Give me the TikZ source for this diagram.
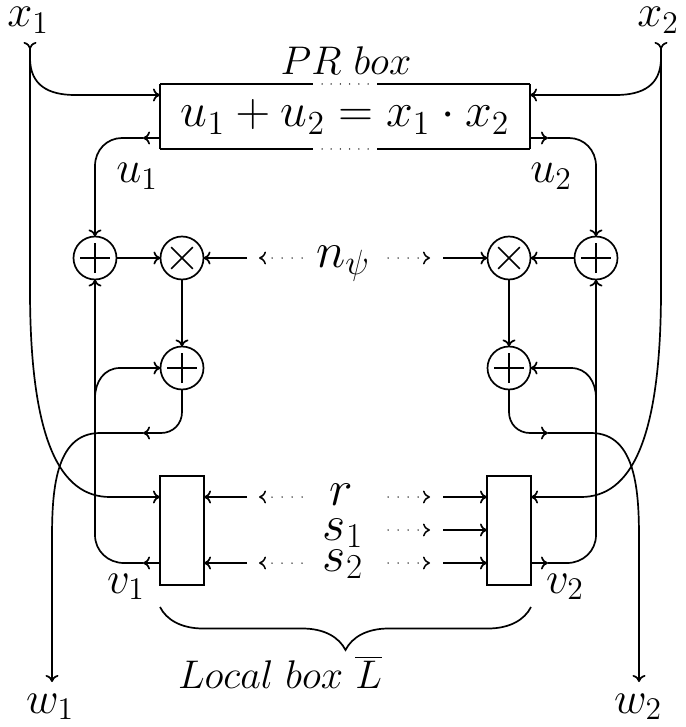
\RequirePackage{fix-cm}
\documentclass[tikz,border=0pt]{standalone}
\usetikzlibrary{arrows.meta,decorations.pathreplacing,calc}
\begin{document}
\begin{tikzpicture}[x=0.5pt,y=-0.5pt,
  line width=0.85pt,
  >={Computer Modern Rightarrow[length=3.5pt,width=6.5pt]},
  tailhead/.style={{Computer Modern Rightarrow[length=3.5pt,width=6.5pt,reversed]}-{Computer Modern Rightarrow[length=3.5pt,width=6.5pt]}},
  lbl/.style={font=\fontsize{22.5}{27}\selectfont, inner sep=0pt, anchor=base},
  toplbl/.style={font=\fontsize{20}{24}\selectfont, inner sep=0pt, anchor=base},
  midlbl/.style={font=\fontsize{25}{30}\selectfont, inner sep=0pt, anchor=base},
  addop/.style={circle, draw, minimum size=21.5pt, inner sep=0pt, outer sep=0pt,
    path picture={
      \draw ([xshift=-7.5pt]path picture bounding box.center) -- ([xshift=7.5pt]path picture bounding box.center);
      \draw ([yshift=-7.5pt]path picture bounding box.center) -- ([yshift=7.5pt]path picture bounding box.center);}},
  mulop/.style={circle, draw, minimum size=21.5pt, inner sep=0pt, outer sep=0pt,
    path picture={
      \draw ([shift={(-5.4pt,-5.4pt)}]path picture bounding box.center) -- ([shift={(5.4pt,5.4pt)}]path picture bounding box.center);
      \draw ([shift={(-5.4pt,5.4pt)}]path picture bounding box.center) -- ([shift={(5.4pt,-5.4pt)}]path picture bounding box.center);}},
  localbox/.style={draw, minimum width=22pt, minimum height=54.5pt, inner sep=0pt, outer sep=0pt},
  dots/.style={line width=0.75pt, line cap=round, dash pattern=on 0pt off 5pt},
  edgedots/.style={line width=0.75pt, line cap=round, dash pattern=on 0pt off 4.6pt},
]
\path[fill=white] (0,0) rectangle (685,727);
\useasboundingbox (0,0) rectangle (685,727);

% labels
\node[lbl] (x1) at (28,27) {$x_1$};
\node[lbl] (x2) at (658,27) {$x_2$};
\node[toplbl] (prlab) at (346,75) {$PR\ box$};
\node[font=\fontsize{24}{29}\selectfont, inner sep=0pt, anchor=base] (prtext) at (345,127) {$u_1+u_2=x_1\cdot x_2$};
\node[lbl] (u1) at (137,183) {$u_1$};
\node[lbl] (u2) at (551,183) {$u_2$};
\node[midlbl] (npsi) at (343,267) {$n_\psi$};
\node[midlbl] (r) at (341,505) {$r$};
\node[midlbl] (s1) at (343,540) {$s_1$};
\node[midlbl] (s2) at (343,571) {$s_2$};
\node[lbl] (v1) at (126,593) {$v_1$};
\node[lbl] (v2) at (565,593) {$v_2$};
\node[lbl] (w1) at (50,713) {$w_1$};
\node[lbl] (w2) at (638,713) {$w_2$};
\node[toplbl] (loc) at (280,688) {$Local\ box\ \overline{L}$};

% PR box
\node[inner sep=0pt, outer sep=0pt, minimum width=185pt, minimum height=32.5pt] (prb) at (345,116.5) {};
\draw (prb.north west) -- (prb.south west);
\draw (prb.north east) -- (prb.south east);
\coordinate (tA) at (313,84); \coordinate (tB) at (377,84);
\coordinate (bA) at (313,149); \coordinate (bB) at (377,149);
\draw (prb.north west) -- (tA); \draw (tB) -- (prb.north east);
\draw (prb.south west) -- (bA); \draw (bB) -- (prb.south east);
\draw[edgedots] (322,84) -- (368,84);
\draw[edgedots] (322,149) -- (368,149);

% operators
\node[addop] (addL) at (95,258) {};
\node[mulop] (mulL) at (182,258) {};
\node[mulop] (mulR) at (509,258) {};
\node[addop] (addR) at (596,258) {};
\node[addop] (addL2) at (182,368) {};
\node[addop] (addR2) at (509,368) {};

% local boxes
\node[localbox] (lbox) at (182,530.5) {};
\node[localbox] (rbox) at (509,530.5) {};

% helper coordinates
\coordinate (x1s) at (30,42);  \coordinate (x2s) at (661,42);
\coordinate (x1b) at (30,58);  \coordinate (x2b) at (661,58);
\coordinate (yin) at (0,95);   \coordinate (yout) at (0,138);
\coordinate (yr) at (0,497);   \coordinate (ys1) at (0,530); \coordinate (ys2) at (0,563);
\coordinate (u1m) at (143,138); \coordinate (u2m) at (548,138);
\coordinate (v1m) at (143,563); \coordinate (v2m) at (548,563);
\coordinate (w1m) at (143,433); \coordinate (w2m) at (548,433);
\coordinate (w1e) at (52,682);  \coordinate (w2e) at (639,682);
\coordinate (v1b) at (95,398);  \coordinate (v2b) at (596,398);

% x1 / x2
\draw[tailhead] (x1s) -- (30,290) .. controls (30,440) and (60,497) .. (110,497) -- (lbox.west |- yr);
\draw[->] (x1b) .. controls (30,85) and (48,95) .. (75,95) -- (prb.west |- yin);
\draw[tailhead] (x2s) -- (661,290) .. controls (661,440) and (631,497) .. (581,497) -- (rbox.east |- yr);
\draw[->] (x2b) .. controls (661,85) and (643,95) .. (616,95) -- (prb.east |- yin);

% u1 / u2
\draw[->] (prb.west |- yout) -- (u1m);
\draw[->] (u1m) -- (122,138) .. controls (107,138) and (95,150) .. (95,166) -- (addL.north);
\draw[->] (prb.east |- yout) -- (u2m);
\draw[->] (u2m) -- (569,138) .. controls (584,138) and (596,150) .. (596,166) -- (addR.north);

% operator chain
\draw[->] (addL.east) -- (mulL.west);
\draw[->] (addR.west) -- (mulR.east);
\draw[->] (mulL.south) -- (addL2.north);
\draw[->] (mulR.south) -- (addR2.north);

% n_psi
\coordinate (nLs) at (247,258); \coordinate (nRs) at (443,258);
\coordinate (nLd) at (302,258); \coordinate (nLt) at (259,258);
\coordinate (nRd) at (388,258); \coordinate (nRt) at (430,258);
\draw[->] (nLs) -- (mulL.east);
\draw[->] (nRs) -- (mulR.west);
\draw[dots,->] (nLd) -- (nLt);
\draw[dots,->] (nRd) -- (nRt);

% r, s1, s2 rows
\foreach \yy/\nm in {497/r,530/s,563/t}{
  \coordinate (\nm Ls) at (247,\yy); \coordinate (\nm Rs) at (443,\yy);
  \coordinate (\nm Ld) at (302,\yy); \coordinate (\nm Lt) at (259,\yy);
  \coordinate (\nm Rd) at (388,\yy); \coordinate (\nm Rt) at (430,\yy);
}
\draw[->] (rLs) -- (lbox.east |- yr);  \draw[dots,->] (rLd) -- (rLt);
\draw[->] (rRs) -- (rbox.west |- yr);  \draw[dots,->] (rRd) -- (rRt);
\draw[->] (sRs) -- (rbox.west |- ys1); \draw[dots,->] (sRd) -- (sRt);
\draw[->] (tLs) -- (lbox.east |- ys2); \draw[dots,->] (tLd) -- (tLt);
\draw[->] (tRs) -- (rbox.west |- ys2); \draw[dots,->] (tRd) -- (tRt);

% v1 / v2
\draw[->] (lbox.west |- ys2) -- (v1m);
\draw[->] (v1m) -- (124,563) .. controls (108,563) and (95,551) .. (95,535) -- (addL.south);
\draw[->] (v1b) .. controls (95,382) and (104,368) .. (120,368) -- (addL2.west);
\draw[->] (rbox.east |- ys2) -- (v2m);
\draw[->] (v2m) -- (567,563) .. controls (583,563) and (596,551) .. (596,535) -- (addR.south);
\draw[->] (v2b) .. controls (596,382) and (587,368) .. (571,368) -- (addR2.east);

% w1 / w2
\draw[->] (addL2.south) -- (182,412) .. controls (182,424) and (173,433) .. (161,433) -- (w1m);
\draw[->] (w1m) -- (100,433) .. controls (54,433) and (52,494) .. (52,540) -- (w1e);
\draw[->] (addR2.south) -- (509,412) .. controls (509,424) and (518,433) .. (530,433) -- (w2m);
\draw[->] (w2m) -- (591,433) .. controls (637,433) and (639,494) .. (639,540) -- (w2e);

% brace
\coordinate (brL) at (160,607); \coordinate (brR) at (531,607);
\draw[decorate, decoration={brace, mirror, amplitude=21.5pt}] (brL) -- (brR);
\end{tikzpicture}
\end{document}
